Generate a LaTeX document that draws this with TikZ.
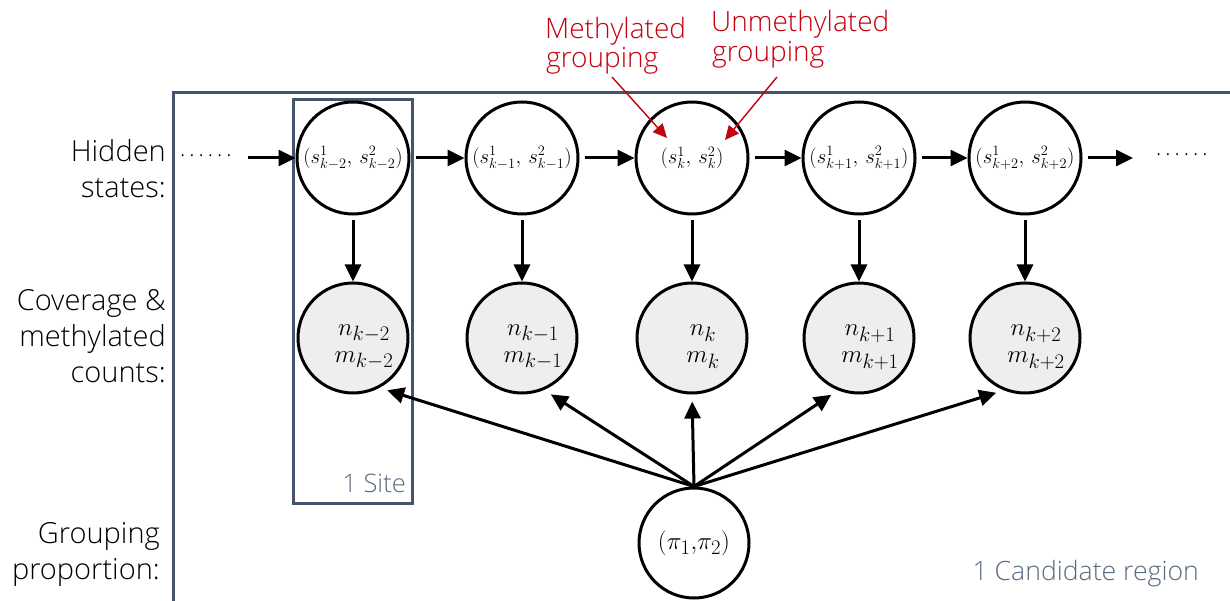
\documentclass[tikz,border=0pt]{standalone}
\usepackage{fontspec}
\IfFontExistsTF{Open Sans Light}{\setmainfont{Open Sans Light}}{\setmainfont{Open Sans}}
\usetikzlibrary{arrows.meta}
\definecolor{slate}{HTML}{44546A}
\definecolor{slatetxt}{HTML}{5B6B80}
\definecolor{redlab}{HTML}{C5000F}
\definecolor{obsfill}{HTML}{EEEEEE}
\begin{document}
\begin{tikzpicture}[x=1pt,y=-1pt,
 every node/.style={inner sep=0pt},
 hid/.style={circle,draw=black,line width=3pt,minimum size=112pt,font=\fontsize{22}{26}\selectfont},
 obs/.style={circle,draw=black,line width=3pt,fill=obsfill,minimum size=110pt},
 obstxt/.style={align=center,font=\fontsize{28}{27}\selectfont},
 pinode/.style={circle,draw=black,line width=3pt,minimum size=110pt,font=\fontsize{29}{30}\selectfont},
 lbl/.style={font=\fontsize{29}{36}\selectfont,anchor=base east},
 redl/.style={font=\fontsize{28}{30}\selectfont,text=redlab,anchor=base west},
 graytxt/.style={font=\fontsize{25.5}{30}\selectfont,text=slatetxt,anchor=base east},
 dotsty/.style={font=\fontsize{22}{26}\selectfont,anchor=base west},
 conn/.style={-{Triangle[length=17pt,width=16pt]},line width=3pt},
 redarr/.style={-{Triangle[length=14pt,width=13pt]},line width=1.4pt,draw=redlab},
]
\useasboundingbox (0,0) rectangle (1230,601);
\fill[white] (0,0) rectangle (1230,601);

% plates
\draw[slate,line width=3pt] (173,93) rectangle (1260,640);
\node[draw=slate,line width=3pt,minimum width=119pt,minimum height=403pt] (site) at (352.5,301.5) {};
\node[graytxt] (sitelbl) at (406,492) {1 Site};
\node[graytxt,font=\fontsize{26.6}{30}\selectfont] (candlbl) at (1199,580) {1 Candidate region};

% left labels
\node[lbl] (la1) at (166,162) {Hidden};
\node[lbl] (la2) at (166,198) {states:};
\node[lbl] (lb1) at (166,310) {Coverage \&};
\node[lbl] (lb2) at (166,346) {methylated};
\node[lbl] (lb3) at (166,382) {counts:};
\node[lbl] (lc1) at (160,543) {Grouping};
\node[lbl] (lc2) at (160,579) {proportion:};

% hidden states
\node[hid] (h1) at (353,158) {$(s^1_{k-2},\, s^2_{k-2})$};
\node[hid] (h2) at (522,158) {$(s^1_{k-1},\, s^2_{k-1})$};
\node[hid] (h3) at (692,158) {$(s^1_{k},\, s^2_{k})$};
\node[hid] (h4) at (859,158) {$(s^1_{k+1},\, s^2_{k+1})$};
\node[hid] (h5) at (1025,158) {$(s^1_{k+2},\, s^2_{k+2})$};

% observed
\node[obs] (o1) at (353,338) {};
\node[obs] (o2) at (522,338) {};
\node[obs] (o3) at (692,338) {};
\node[obs] (o4) at (859,338) {};
\node[obs] (o5) at (1025,338) {};
\node[obstxt] (t1) at (364,347) {$n_{k-2}$\\$m_{k-2}$};
\node[obstxt] (t2) at (533,347) {$n_{k-1}$\\$m_{k-1}$};
\node[obstxt] (t3) at (703,347) {$n_{k}$\\$m_{k}$};
\node[obstxt] (t4) at (870,347) {$n_{k+1}$\\$m_{k+1}$};
\node[obstxt] (t5) at (1036,347) {$n_{k+2}$\\$m_{k+2}$};

% proportion
\node[pinode] (pi) at (694,543) {$(\pi_1{,}\pi_2)$};

% dots
\node[dotsty] (dotsL) at (180,157) {.\kern4pt.\kern4pt.\kern4pt.\kern4pt.\kern4pt.};
\node[dotsty] (dotsR) at (1156,156) {.\kern4pt.\kern4pt.\kern4pt.\kern4pt.\kern4pt.};
\coordinate (inL) at (248,158);
\coordinate (outR) at (1133,158);

% chain arrows
\draw[conn] (inL) -- (h1.west);
\draw[conn,shorten <=5pt] (h1.east) -- (h2.west);
\draw[conn,shorten <=5pt] (h2.east) -- (h3.west);
\draw[conn,shorten <=5pt] (h3.east) -- (h4.west);
\draw[conn,shorten <=5pt] (h4.east) -- (h5.west);
\draw[conn,shorten <=5pt] (h5.east) -- (outR);

% emission arrows
\foreach \i in {1,...,5}{
  \draw[conn,shorten <=5pt] (h\i.south) -- (o\i.north);
}
\draw[conn,shorten >=8pt] (pi.north) -- (o1.-62);
\draw[conn,shorten >=8pt] (pi.north) -- (o2.-67);
\draw[conn,shorten >=7pt] (pi.north) -- (o3.south);
\draw[conn,shorten >=8pt] (pi.north) -- (o4.-112);
\draw[conn,shorten >=8pt] (pi.north) -- (o5.-112);

% red annotations
\node[redl] (rm1) at (545,39) {Methylated};
\node[redl] (rm2) at (546,68) {grouping};
\node[redl] (ru1) at (711,32) {Unmethylated};
\node[redl] (ru2) at (712,62) {grouping};
\coordinate (ra1s) at (612,77);
\coordinate (ra1e) at (667,138);
\coordinate (ra2s) at (777,77);
\coordinate (ra2e) at (725,140);
\draw[redarr] (ra1s) -- (ra1e);
\draw[redarr] (ra2s) -- (ra2e);
\end{tikzpicture}
\end{document}
